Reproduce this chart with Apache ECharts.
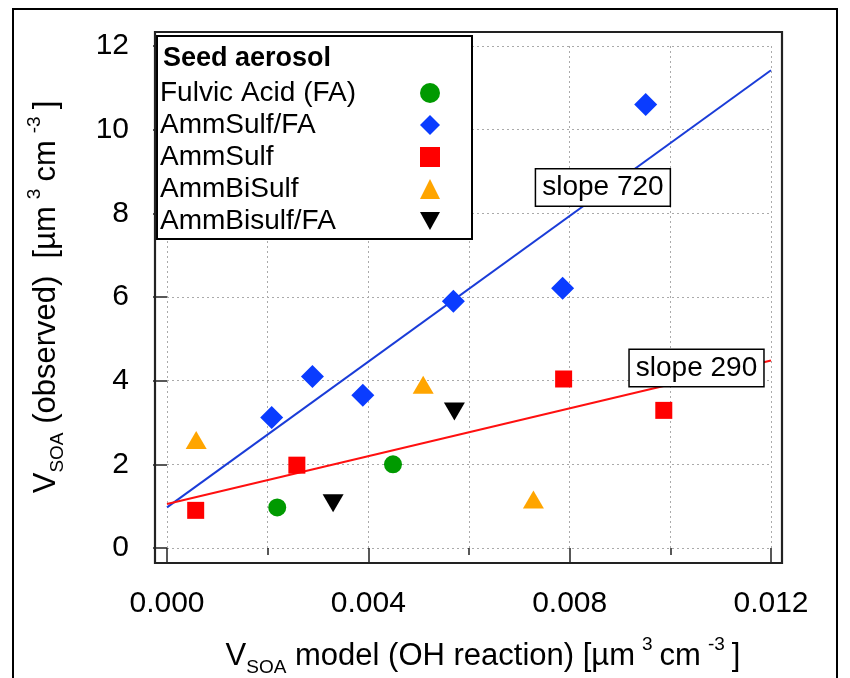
<!DOCTYPE html>
<html><head><meta charset="utf-8">
<script src="https://cdn.jsdelivr.net/npm/echarts@6/dist/echarts.min.js"></script>
<style>html,body{margin:0;padding:0;background:#fff}#c{width:850px;height:678px}</style>
</head><body><div id="c"></div>
<script>
// ---- data ----
const seriesNames = ['Fulvic Acid (FA)', 'AmmSulf/FA', 'AmmSulf', 'AmmBiSulf', 'AmmBisulf/FA'];
const faX = [0.00219, 0.00449];
const faY = [0.97, 2.0];
const ammSulfFAX = [0.00208, 0.00289, 0.00389, 0.00569, 0.00786, 0.00951];
const ammSulfFAY = [3.12, 4.10, 3.65, 5.90, 6.21, 10.60];
const ammSulfX = [0.00057, 0.00258, 0.00788, 0.00987];
const ammSulfY = [0.90, 1.98, 4.04, 3.29];
const ammBiSulfX = [0.00058, 0.00509, 0.00728];
const ammBiSulfY = [2.58, 3.90, 1.16];
const ammBisulfFAX = [0.00330, 0.00571];
const ammBisulfFAY = [1.07, 3.26];
const fitBlueX = [0, 0.012], fitBlueY = [0.97, 11.42];
const fitRedX = [0, 0.012], fitRedY = [1.05, 4.48];
const slopeLabels = ['slope 720', 'slope 290'];
const xTicks = [0, 0.004, 0.008, 0.012];
const yTicks = [0, 2, 4, 6, 8, 10, 12];

const F = '"Liberation Sans", Arial, Helvetica, sans-serif';
const zip = (xs, ys) => xs.map((x, i) => [x, ys[i]]);
const nameRich = {
  n: { fontSize: 31, lineHeight: 42, fontFamily: F, color: '#000' },
  sub: { fontSize: 19, lineHeight: 20, verticalAlign: 'bottom', fontFamily: F, color: '#000' },
  sup: { fontSize: 19, lineHeight: 18, verticalAlign: 'top', fontFamily: F, color: '#000', padding: [0, 7, 0, 7] }
};
const tickStyle = { color: '#222', width: 1.5 };
const gridLine = { color: '#aaa', width: 1, type: [2, 3] };

const chart = echarts.init(document.getElementById('c'), null, { renderer: 'canvas' });
const scatter = (name, xs, ys, symbol, size, color) => ({
  name, type: 'scatter', data: zip(xs, ys), symbol, symbolSize: size, z: 4,
  itemStyle: { color, opacity: 1 }
});
const slopeLabel = (text, coord) => ({
  symbol: 'rect', symbolSize: 1, itemStyle: { color: 'rgba(0,0,0,0)' },
  label: { show: true, position: 'inside', formatter: text, fontSize: 28, fontFamily: F, color: '#000',
    backgroundColor: '#fff', borderColor: '#000', borderWidth: 1.5, padding: [5, 6, 3, 6] },
  data: [{ coord }]
});

chart.setOption({
  animation: false,
  backgroundColor: '#fff',
  grid: { left: 167, right: 79, top: 46, bottom: 130, containLabel: false, outerBoundsMode: 'none' },
  xAxis: {
    type: 'value', min: xTicks[0], max: xTicks[xTicks.length - 1], interval: xTicks[1] - xTicks[0],
    offset: 15,
    axisLine: { show: false },
    axisTick: { show: true, length: 14, lineStyle: tickStyle },
    minorTick: { show: true, splitNumber: 2, length: 7, lineStyle: tickStyle },
    splitLine: { show: true, lineStyle: gridLine },
    minorSplitLine: { show: true, lineStyle: gridLine },
    axisLabel: { fontSize: 30, fontFamily: F, color: '#000', margin: 26, formatter: v => v.toFixed(3) },
    name: '{n|V}{sub|SOA}{n| model (OH reaction) [µm}{sup|3}{n|cm}{sup|-3}{n|]}',
    nameLocation: 'middle', nameGap: 72,
    nameTextStyle: { rich: nameRich, padding: [0, 0, 0, 28] }
  },
  yAxis: {
    type: 'value', min: yTicks[0], max: yTicks[yTicks.length - 1], interval: yTicks[1] - yTicks[0],
    offset: 12,
    axisLine: { show: false },
    axisTick: { show: true, length: 14, lineStyle: tickStyle },
    splitLine: { show: true, lineStyle: gridLine },
    axisLabel: { fontSize: 30, fontFamily: F, color: '#000', margin: 26 },
    name: '{n|V}{sub|SOA}{n| (observed)  [µm}{sup|3}{n|cm}{sup|-3}{n|]}',
    nameLocation: 'middle', nameGap: 88, nameRotate: 90,
    nameTextStyle: { rich: nameRich }
  },
  legend: {
    orient: 'vertical', left: 157, top: 36, align: 'right',
    padding: [43, 32, 4, 3], itemGap: 4, itemWidth: 20, itemHeight: 20,
    borderColor: '#000', borderWidth: 2, backgroundColor: '#fff',
    data: seriesNames,
    formatter: name => '{t|' + name + '}',
    textStyle: { rich: { t: { width: 255, align: 'left', fontSize: 28, lineHeight: 28, fontFamily: F, color: '#000' } } }
  },
  graphic: [
    { type: 'rect', z: 100, silent: true, shape: { x: 155, y: 32, width: 627, height: 531 },
      style: { fill: 'none', stroke: '#222', lineWidth: 2.2 } },
    { type: 'rect', z: 100, silent: true, shape: { x: 13, y: 9, width: 824, height: 700 },
      style: { fill: 'none', stroke: '#000', lineWidth: 2 } },
    { type: 'text', z: 100, silent: true, left: 163, top: 45,
      style: { text: 'Seed aerosol', font: 'bold 27px ' + F, fill: '#000' } }
  ],
  series: [
    { name: 'fitBlue', type: 'line', data: zip(fitBlueX, fitBlueY), showSymbol: false, z: 2,
      lineStyle: { color: '#1a3cd8', width: 2 }, markPoint: slopeLabel(slopeLabels[0], [0.00866, 8.62]) },
    { name: 'fitRed', type: 'line', data: zip(fitRedX, fitRedY), showSymbol: false, z: 2,
      lineStyle: { color: '#ff1010', width: 2 }, markPoint: slopeLabel(slopeLabels[1], [0.01052, 4.30]) },
    scatter(seriesNames[0], faX, faY, 'circle', 18, '#009a00'),
    scatter(seriesNames[1], ammSulfFAX, ammSulfFAY, 'diamond', 23, '#0a3cff'),
    scatter(seriesNames[2], ammSulfX, ammSulfY, 'rect', 17, '#ff0000'),
    scatter(seriesNames[3], ammBiSulfX, ammBiSulfY, 'triangle', [21, 18], '#ffa500'),
    scatter(seriesNames[4], ammBisulfFAX, ammBisulfFAY, 'path://M0,0L20,0L10,18Z', [21, 18], '#000000')
  ]
});
</script></body></html>
